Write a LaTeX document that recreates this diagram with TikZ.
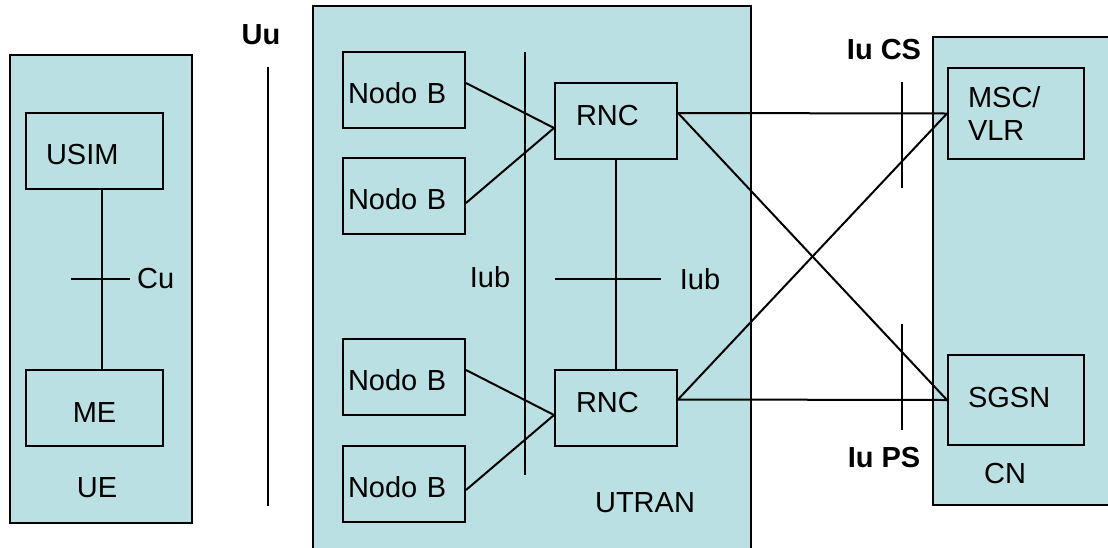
\documentclass[tikz,border=0pt]{standalone}
\usepackage{fontspec}
\setmainfont{Liberation Sans}
\usepackage{tikz}
\usetikzlibrary{positioning}
\definecolor{netfill}{HTML}{BBE0E3}
\tikzset{
  netarea/.style={draw, fill=netfill, line width=2pt, inner sep=0pt},
  elem/.style={draw, fill=netfill, line width=2pt, minimum height=76pt, inner ysep=0pt, align=left},
  lowtext/.style={text height=27pt, text depth=0pt},
  hightext/.style={text height=21pt, text depth=#1},
  link/.style={line width=2pt},
  iflabel/.style={font=\fontsize{29}{33}\selectfont\bfseries}
}

\begin{document}
\begin{tikzpicture}[x=1pt, y=-1pt, font=\fontsize{29}{33}\selectfont]
  \useasboundingbox (0,0) rectangle (1108,547);
  \clip (0,0) rectangle (1108,547);

  \node[netarea, minimum width=182pt, minimum height=468pt] (ue) at (101,289) {};
  \node[netarea, minimum width=438pt, minimum height=554pt] (utran) at (532,283) {};
  \node[netarea, minimum width=182pt, minimum height=468pt] (cn) at (1024,271) {};

  \node[elem, lowtext, inner xsep=20pt, text width=97pt] (usim) at (94.5,151) {USIM};
  \node[elem, text height=29pt, text depth=0pt, inner xsep=20pt, text width=97pt, align=center] (me) at (94.5,408) {ME};
  \node (uelabel) at (97,488) {UE};

  \node[elem, lowtext, inner xsep=5pt, text width=112pt] (nb1) at (404,90) {Nodo B};
  \node[elem, lowtext, inner xsep=5pt, text width=112pt] (nb2) at (404,196) {Nodo B};
  \node[elem, lowtext, inner xsep=5pt, text width=112pt] (nb3) at (404,377) {Nodo B};
  \node[elem, lowtext, inner xsep=5pt, text width=112pt] (nb4) at (404,484) {Nodo B};
  \node[elem, hightext=12pt, inner xsep=21pt, text width=80pt] (rnc1) at (616,121) {RNC};
  \node[elem, hightext=12pt, inner xsep=21pt, text width=80pt] (rnc2) at (616,408) {RNC};
  \node (utranlabel) at (645,503) {UTRAN};

  \node[elem, inner xsep=20pt, text width=96pt, minimum height=91pt] (msc) at (1016,113.5) {MSC/\\VLR};
  \node[elem, hightext=6pt, inner xsep=20pt, text width=96pt, minimum height=90pt] (sgsn) at (1016,400) {SGSN};
  \node (cnlabel) at (1005,474) {CN};

  \node[iflabel] (uu) at (261,35) {Uu};
  \node[anchor=west, inner xsep=0pt] (cu) at (137,279) {Cu};
  \node (iubleft) at (490,277) {Iub};
  \node (iubright) at (700,279) {Iub};
  \node[iflabel] (iucs) at (884,50) {Iu CS};
  \node[iflabel] (iups) at (884,458) {Iu PS};

  \coordinate (uutop) at (268,67);
  \coordinate (uubot) at (268,506);
  \coordinate (cuw) at (71,279);
  \coordinate (cue) at (130,279);
  \coordinate (iubtop) at (525,52);
  \coordinate (iubbot) at (525,475);
  \coordinate (iubw) at (555,279);
  \coordinate (iube) at (661,279);
  \coordinate (cstop) at (902,82);
  \coordinate (csbot) at (902,188);
  \coordinate (pstop) at (902,324);
  \coordinate (psbot) at (902,430);

  \draw[link] (uutop) -- (uubot);
  \draw[link] ([xshift=7.5pt]usim.south) -- ([xshift=7.5pt]me.north);
  \draw[link] (cuw) -- (cue);
  \draw[link] (iubtop) -- (iubbot);
  \draw[link] ([yshift=7pt]nb1.east) -- ([yshift=-7pt]rnc1.west);
  \draw[link] ([yshift=-7pt]nb2.east) -- ([yshift=-7pt]rnc1.west);
  \draw[link] ([yshift=7pt]nb3.east) -- ([yshift=-7pt]rnc2.west);
  \draw[link] ([yshift=-6pt]nb4.east) -- ([yshift=-7pt]rnc2.west);
  \draw[link] (rnc1) -- (rnc2);
  \draw[link] (iubw) -- (iube);
  \draw[link] ([yshift=8pt]rnc1.east) -- (msc.west);
  \draw[link] ([yshift=8pt]rnc1.east) -- (sgsn.west);
  \draw[link] ([yshift=8.5pt]rnc2.east) -- (sgsn.west);
  \draw[link] ([yshift=8.5pt]rnc2.east) -- (msc.west);
  \draw[link] (cstop) -- (csbot);
  \draw[link] (pstop) -- (psbot);
\end{tikzpicture}
\end{document}
